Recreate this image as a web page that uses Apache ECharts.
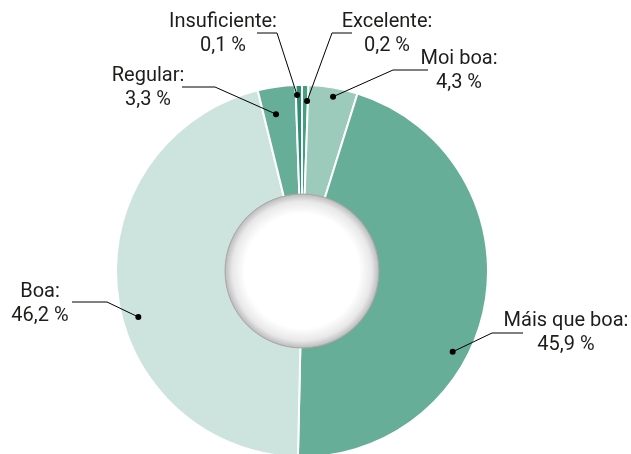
<!DOCTYPE html>
<html>
<head>
<meta charset="utf-8">
<script src="https://cdn.jsdelivr.net/npm/echarts@6/dist/echarts.min.js"></script>
<style>
  html, body { margin: 0; padding: 0; background: #fff; }
  #chart { width: 631px; height: 454px; }
</style>
</head>
<body>
<div id="chart"></div>
<script>
(function () {
  "use strict";

  // clockwise from the top
  const categories = ["Excelente", "Moi boa", "Máis que boa", "Boa", "Regular", "Insuficiente"];
  const shares = [0.2, 4.3, 45.9, 46.2, 3.3, 0.1];
  const colors = ["#45a083", "#9ccbbb", "#66ae98", "#cde4de", "#66ae98", "#2e8f6e"];

  // leader-line layout (annotation placement, px / degrees)
  const CX = 302, CY = 271, R_OUT = 186, R_IN = 77;
  const dotPolar = [[170, 1.7], [177, 10.1], [171, 118.2], [170, 254.3], [159, 350.6], [176, 358.4]];
  const elbows = [[332, 33], [393, 70], [492, 333], [107, 302], [215, 87], [277, 33]];
  const lineEnds = [[352, 33], [428, 70], [523, 333], [72, 302], [182, 87], [257, 33]];
  const labelCenters = [[387, 34], [459, 71], [566, 333], [40, 304], [148, 88], [223, 34]];

  function fmt(v) {
    return v.toFixed(1).replace(".", ",") + " %";
  }

  const chart = echarts.init(document.getElementById("chart"));

  chart.setOption({
    animation: false,
    polar: { center: [CX, CY], radius: R_OUT },
    angleAxis: { type: "value", min: 0, max: 360, startAngle: 90, clockwise: true, show: false },
    radiusAxis: { type: "value", min: 0, max: R_OUT, show: false },
    series: [
      {
        type: "pie",
        center: [CX, CY],
        radius: [R_IN - 4, R_OUT],
        startAngle: 90,
        clockwise: true,
        minAngle: 2,
        avoidLabelOverlap: false,
        itemStyle: { borderColor: "#ffffff", borderWidth: 2 },
        emphasis: { disabled: true },
        label: {
          show: true,
          position: "outside",
          formatter: (p) => p.name + ":\n" + fmt(p.value),
          fontFamily: "Roboto",
          fontSize: 20,
          lineHeight: 24,
          color: "#1d1d1b",
          align: "center",
        },
        labelLine: { show: false },
        labelLayout: (params) => {
          const i = params.dataIndex;
          return { x: labelCenters[i][0], y: labelCenters[i][1], align: "center", verticalAlign: "middle" };
        },
        data: categories.map((c, i) => ({ name: c, value: shares[i], itemStyle: { color: colors[i] } })),
        z: 2,
      },
      {
        type: "pie",
        center: [CX, CY],
        radius: [0, R_IN],
        silent: true,
        label: { show: false },
        labelLine: { show: false },
        itemStyle: {
          borderColor: "#a8a8a8",
          borderWidth: 1,
          color: {
            type: "radial", x: 0.5, y: 0.5, r: 0.5,
            colorStops: [
              { offset: 0, color: "#ffffff" },
              { offset: 0.74, color: "#ffffff" },
              { offset: 0.9, color: "#e8e8e8" },
              { offset: 0.98, color: "#c2c2c2" },
              { offset: 1, color: "#a6a6a6" },
            ],
          },
        },
        data: [{ name: "", value: 1 }],
        z: 3,
      },
      {
        type: "custom",
        coordinateSystem: "polar",
        silent: true,
        data: dotPolar,
        renderItem: (params, api) => {
          const i = params.dataIndex;
          const p = api.coord([api.value(0), api.value(1)]);
          return {
            type: "group",
            children: [
              {
                type: "polyline",
                shape: { points: [p, elbows[i], lineEnds[i]] },
                style: { stroke: "#000000", lineWidth: 1, fill: null },
              },
              {
                type: "circle",
                shape: { cx: p[0], cy: p[1], r: 3 },
                style: { fill: "#000000" },
              },
            ],
          };
        },
        z: 5,
      },
    ],
  });
})();
</script>
</body>
</html>
